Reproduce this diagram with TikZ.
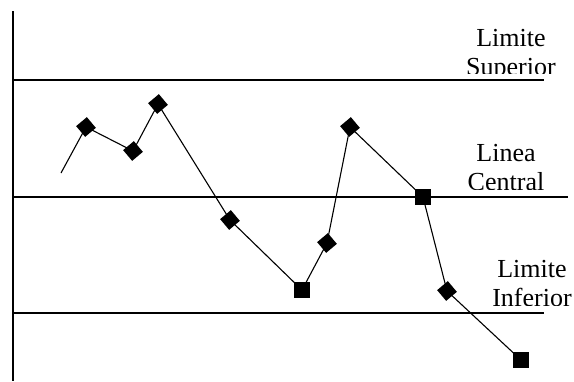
\documentclass[tikz,border=0pt]{standalone}
\usepackage{fontspec}
\setmainfont{Liberation Serif}
\begin{document}
\begin{tikzpicture}[x=1pt,y=-1pt,
  sq/.style={rectangle,fill=black,draw=none,minimum size=16pt,inner sep=0pt},
  dm/.style={rectangle,fill=black,draw=none,minimum size=14pt,inner sep=0pt,rotate=40},
  limline/.style={line width=1.3pt},
  dataline/.style={line width=1.1pt},
  lbl/.style={font=\fontsize{26}{29}\selectfont,align=center,inner sep=0pt,anchor=base}]
\useasboundingbox (0,0) rectangle (574,381);
% axis
\coordinate (ax0) at (13,11);
\coordinate (ax1) at (13,381);
\draw[line width=1.5pt] (ax0) -- (ax1);
% limit lines
\coordinate (ul0) at (13,80);  \coordinate (ul1) at (544,80);
\coordinate (cl0) at (13,197); \coordinate (cl1) at (568,197);
\coordinate (ll0) at (13,313); \coordinate (ll1) at (544,313);
\draw[limline] (ul0) -- (ul1);
\draw[limline] (cl0) -- (cl1);
\draw[limline] (ll0) -- (ll1);
% labels (bottoms cut off as in the original)
\begin{scope}
\clip (440,0) rectangle (574,73);
\node[lbl] (lsup) at (511,75) {Limite\\Superior};
\end{scope}
\begin{scope}
\clip (440,120) rectangle (574,189);
\node[lbl] (lcen) at (506,190) {Linea\\Central};
\end{scope}
\begin{scope}
\clip (440,240) rectangle (574,305);
\node[lbl] (linf) at (532,306) {Limite\\Inferior};
\end{scope}
% data points
\coordinate (s) at (61,173);
\node[dm] (p1) at (86,127) {};
\node[dm] (p2) at (133,151) {};
\node[dm] (p3) at (158,104) {};
\node[dm] (p4) at (230,220) {};
\node[sq] (p5) at (302,290) {};
\node[dm] (p6) at (327,243) {};
\node[dm] (p7) at (350,127) {};
\node[sq] (p8) at (423,197) {};
\node[dm] (p9) at (447,291) {};
\node[sq] (p10) at (521,360) {};
\draw[dataline] (s) -- (p1.center) -- (p2.center) -- (p3.center) -- (p4.center) -- (p5.center)
  -- (p6.center) -- (p7.center) -- (p8.center) -- (p9.center) -- (p10.center);
\end{tikzpicture}
\end{document}
